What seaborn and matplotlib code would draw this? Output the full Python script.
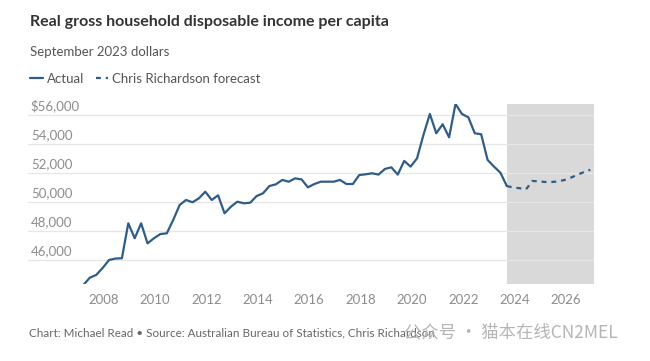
import matplotlib
matplotlib.use('Agg')

import matplotlib.pyplot as plt
import seaborn as sns
import pandas as pd

# quarterly readings, September 2023 dollars
start_year = 2007.2
actual_values = [
    44280, 44780, 44970, 45450, 46000, 46100, 46120, 48530, 47500, 48530,
    47150, 47500, 47790, 47840, 48760, 49790, 50140, 49980, 50250, 50710,
    50140, 50460, 49220, 49680, 50020, 49910, 49950, 50410, 50600, 51100,
    51220, 51520, 51400, 51630, 51560, 51010, 51240, 51400, 51400, 51400,
    51520, 51240, 51240, 51860, 51910, 51980, 51890, 52280, 52390, 51890,
    52830, 52440, 53010, 54620, 56070, 54740, 55360, 54460, 56760, 56070,
    55840, 54740, 54670, 52900, 52440, 52020, 51100,
]
forecast_values = [
    51100, 51000, 50950, 50880, 51450, 51420, 51380, 51380, 51420, 51520,
    51680, 51880, 52060, 52220,
]
x_ticks = [2008, 2010, 2012, 2014, 2016, 2018, 2020, 2022, 2024, 2026]
y_ticks = [46000, 48000, 50000, 52000, 54000, 56000]

actual = pd.DataFrame({
    'year': [start_year + 0.25 * i for i in range(len(actual_values))],
    'value': actual_values,
})
offset = len(actual_values) - 1
forecast = pd.DataFrame({
    'year': [start_year + 0.25 * (offset + i) for i in range(len(forecast_values))],
    'value': forecast_values,
})

sns.set_style('white')
plt.rcParams['font.family'] = ['Lato', 'DejaVu Sans']

line_color = '#2f5d85'
fig = plt.figure(figsize=(6.5, 3.61), dpi=100)
ax = fig.add_axes([0.043, 0.2133, 0.871, 0.4987])

ax.axvspan(forecast['year'].iloc[0], 2027.1, color='#d9d9d9', lw=0, zorder=0)
for v in y_ticks:
    ax.axhline(v, color='#e6e6e6', lw=0.9, zorder=1)

sns.lineplot(data=actual, x='year', y='value', ax=ax, color=line_color,
             linewidth=1.6, label='Actual', zorder=3)
sns.lineplot(data=forecast, x='year', y='value', ax=ax, color=line_color,
             linewidth=1.6, linestyle=(0, (2.2, 2.2)), label='Chris Richardson forecast',
             zorder=3)

ax.set_xlim(2005.04, 2027.1)
ax.set_ylim(44345, 56760)
ax.set_xlabel('')
ax.set_ylabel('')
ax.set_xticks(x_ticks)
ax.set_xticklabels([str(t) for t in x_ticks])
ax.set_yticks([])
ax.tick_params(axis='x', length=0, pad=7, labelsize=9.5, labelcolor='#8c8c8c')
sns.despine(ax=ax, left=True, bottom=True)

for v in y_ticks:
    label = f'${v:,}' if v == y_ticks[-1] else f'{v:,}'
    ax.text(0.005, v + 180, label, transform=ax.get_yaxis_transform(),
            ha='left', va='bottom', fontsize=9.5, color='#8c8c8c')

handles, labels = ax.get_legend_handles_labels()
ax.get_legend().remove()
fig.legend(handles, labels, loc='center left', bbox_to_anchor=(0.028, 0.781),
           ncol=2, frameon=False, fontsize=9.5, handlelength=0.95, handletextpad=0.3,
           columnspacing=0.9, labelcolor='#555555')

fig.text(0.046, 0.939, 'Real gross household disposable income per capita',
         fontsize=11.5, fontweight='bold', color='#333333', va='center')
fig.text(0.046, 0.856, 'September 2023 dollars', fontsize=9.5, color='#555555', va='center')
fig.text(0.045, 0.078,
         'Chart: Michael Read \u2022 Source: Australian Bureau of Statistics, Chris Richardson',
         fontsize=8.4, color='#666666', va='center')
fig.text(0.622, 0.078, '公众号 · 猫本在线CN2MEL', fontsize=12.5, color='#b5b5b5', va='center',
         family=['Noto Sans CJK SC', 'DejaVu Sans'])

fig.savefig('out.png', dpi=100)
